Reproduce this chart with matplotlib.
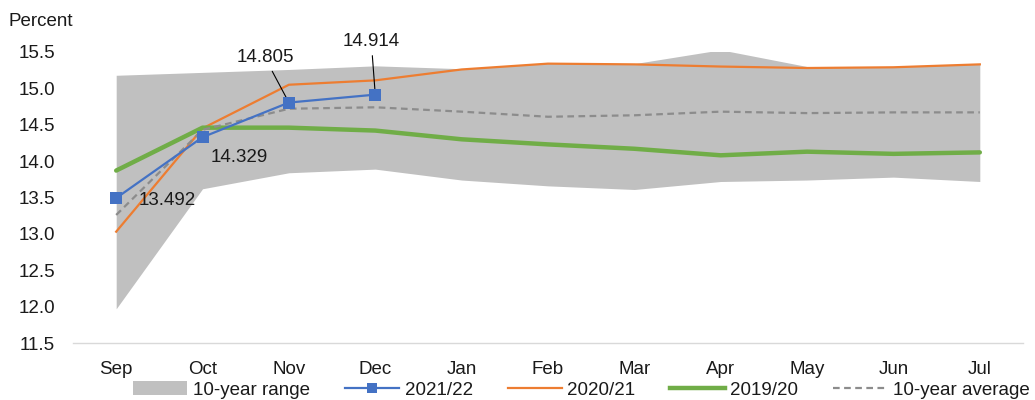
import matplotlib
matplotlib.use("Agg")
import matplotlib.pyplot as plt
from matplotlib.patches import Patch
from matplotlib.lines import Line2D

plt.rcParams['font.family'] = ['Liberation Sans', 'DejaVu Sans']

months = ['Sep', 'Oct', 'Nov', 'Dec', 'Jan', 'Feb', 'Mar', 'Apr', 'May', 'Jun', 'Jul']

# 10-year range (min / max) and average
range_low = [11.97, 13.62, 13.84, 13.89, 13.74, 13.66, 13.61, 13.72, 13.74, 13.78, 13.72]
range_high = [15.18, 15.22, 15.26, 15.31, 15.27, 15.35, 15.34, 15.53, 15.30, 15.30, 15.34]
avg_10yr = [13.26, 14.43, 14.72, 14.74, 14.68, 14.61, 14.63, 14.68, 14.66, 14.67, 14.67]

# marketing years
y2021 = [13.492, 14.329, 14.805, 14.914]
y2020 = [13.03, 14.45, 15.05, 15.11, 15.26, 15.34, 15.33, 15.30, 15.28, 15.29, 15.33]
y2019 = [13.87, 14.46, 14.46, 14.42, 14.30, 14.23, 14.17, 14.08, 14.13, 14.10, 14.12]

x = list(range(len(months)))
FS = 13.5
TXT = '#1a1a1a'

fig = plt.figure(figsize=(10.35, 4.0), dpi=100)
ax = fig.add_axes([73 / 1035, 1 - 343 / 400, 950 / 1035, 291 / 400])

ax.fill_between(x, range_low, range_high, color='#c0c0c0', lw=0, zorder=1)
ax.plot(x, y2020, color='#ed7d31', lw=1.6, zorder=3)
ax.plot(x, y2019, color='#70ad47', lw=3.2, solid_capstyle='round', zorder=3)
ax.plot(x, avg_10yr, color='#8c8c8c', lw=1.6, ls=(0, (3, 2)), zorder=3)
ax.plot(x[:len(y2021)], y2021, color='#4472c4', lw=1.6, marker='s', ms=9,
        markeredgewidth=0, zorder=5)

# labels on the current year points
lbl = dict(fontsize=FS, color=TXT, textcoords='offset pixels')
ax.annotate(f'{y2021[0]:.3f}', (0, y2021[0]), xytext=(22, -2), ha='left', va='center', **lbl)
ax.annotate(f'{y2021[1]:.3f}', (1, y2021[1]), xytext=(37, -20), ha='center', va='center', **lbl)
leader = dict(arrowstyle='-', color='black', lw=0.8, shrinkA=2, shrinkB=0)
ax.annotate(f'{y2021[2]:.3f}', (2, y2021[2]), xytext=(-24, 45), ha='center', va='center',
            arrowprops=leader, zorder=4, **lbl)
ax.annotate(f'{y2021[3]:.3f}', (3, y2021[3]), xytext=(-4, 53), ha='center', va='center',
            arrowprops=leader, zorder=4, **lbl)

ax.set_xlim(-0.5, 10.5)
ax.set_ylim(11.5, 15.5)
ax.set_xticks(x)
ax.set_xticklabels(months)
ax.set_yticks([11.5 + 0.5 * i for i in range(9)])
ax.set_yticklabels([f'{11.5 + 0.5 * i:.1f}' for i in range(9)])
ax.tick_params(axis='both', length=0, labelsize=FS, colors=TXT)
ax.tick_params(axis='x', pad=13)
ax.tick_params(axis='y', pad=13)
for side in ['top', 'right', 'left']:
    ax.spines[side].set_visible(False)
ax.spines['bottom'].set_color('#d9d9d9')
ax.spines['bottom'].set_linewidth(1.0)

fig.text(8 / 1035, 1 - 21 / 400, 'Percent', fontsize=FS, color=TXT, va='center', ha='left')

handles = [
    Patch(facecolor='#c0c0c0', edgecolor='none'),
    Line2D([], [], color='#4472c4', lw=1.6, marker='s', ms=7, markeredgewidth=0),
    Line2D([], [], color='#ed7d31', lw=1.6),
    Line2D([], [], color='#70ad47', lw=3.2),
    Line2D([], [], color='#8c8c8c', lw=1.6, ls=(0, (3, 2))),
]
labels = ['10-year range', '2021/22', '2020/21', '2019/20', '10-year average']
fig.legend(handles, labels, loc='center left', bbox_to_anchor=(133 / 1035, 1 - 390 / 400),
           ncol=5, frameon=False, fontsize=FS, handlelength=2.9, handletextpad=0.3,
           columnspacing=1.85, borderaxespad=0, borderpad=0, labelcolor=TXT)

fig.savefig('out.png', dpi=100)
